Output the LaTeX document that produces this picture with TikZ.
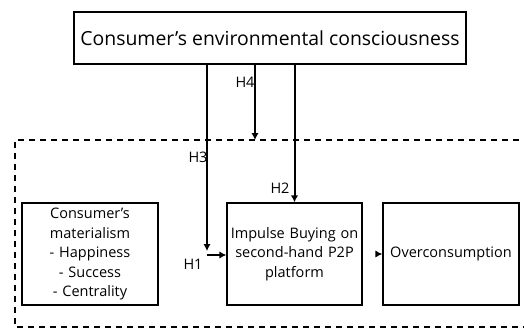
\documentclass[tikz,border=0pt]{standalone}
\usepackage{fontspec}
\setmainfont{Open Sans}
\usepackage{tikz}
\usetikzlibrary{arrows.meta,positioning}

\begin{document}
\begin{tikzpicture}[x=1pt,y=-1pt,
    box/.style={draw,line width=1.4pt,rectangle,align=center,inner sep=0pt,
        minimum height=102pt,text width=132pt,font=\fontsize{14.5}{19.5}\selectfont},
    hyp/.style={font=\fontsize{14.5}{16}\selectfont,inner sep=0pt},
    link/.style={line width=2pt,-{Latex[length=7pt,width=7.5pt]}}]
    \useasboundingbox (0,0) rectangle (524,329);
    \node[draw,line width=1.4pt,minimum width=392pt,minimum height=52pt,inner sep=0pt,
        font=\fontsize{19.4}{22}\selectfont] (env) at (270,38) {Consumer’s environmental consciousness};
    \node[box,minimum width=136pt] (mat) at (90,254) {Consumer’s\\materialism\\- Happiness\\- Success\\- Centrality};
    \node[box,minimum width=135pt] (imp) at (294.5,254) {Impulse Buying on\\second-hand P2P\\platform};
    \node[box,minimum width=136pt] (over) at (451,254) {Overconsumption};

    \draw[line width=1.4pt,dash pattern=on 6pt off 5pt] (530,140) -- (15,140) -- (15,327) -- (530,327);

    \coordinate (h3end) at (207,251);
    \coordinate (h1start) at (207,255);
    \coordinate (h4end) at (255,140);

    \draw[link] (env.south -| h3end) -- (h3end);
    \draw[link] (h1start) -- (h1start -| imp.west);
    \draw[link] (env.south -| h4end) -- (h4end);
    \draw[link] (env.south -| imp.north) -- (imp.north);
    \draw[link,shorten <=13pt] (imp.east) -- (over.west);

    \node[hyp] (h4) at (245,82) {H4};
    \node[hyp] (h3) at (198,157) {H3};
    \node[hyp] (h2) at (280,188) {H2};
    \node[hyp] (h1) at (193,264) {H1};
\end{tikzpicture}
\end{document}
